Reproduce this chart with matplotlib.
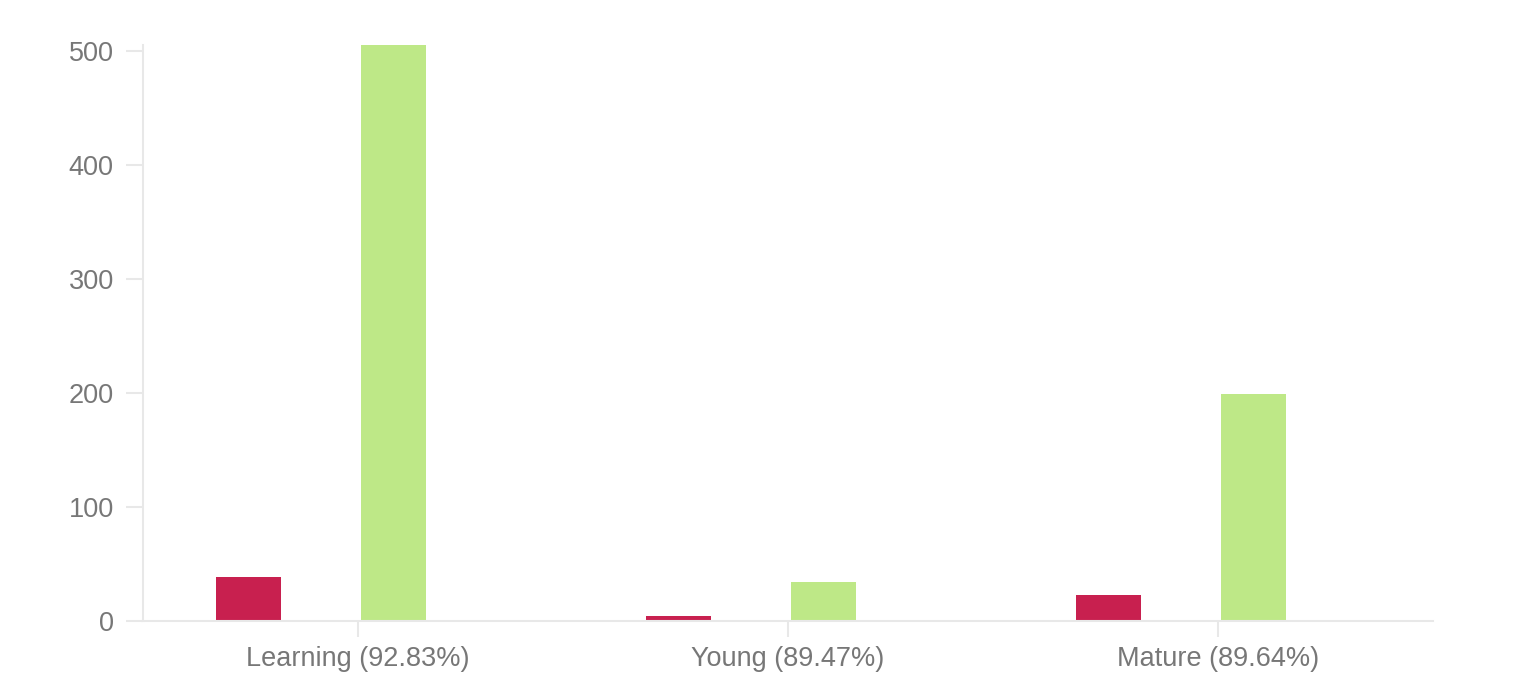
import matplotlib.pyplot as plt
import numpy as np

# data
categories = ['Learning (92.83%)', 'Young (89.47%)', 'Mature (89.64%)']
incorrect = [39, 4, 23]
correct = [505, 34, 199]

red = '#c8204f'
green = '#bee887'
grid_col = '#e8e8e8'
text_col = '#777777'

plt.rcParams['font.family'] = ['Liberation Sans', 'DejaVu Sans']

fig = plt.figure(figsize=(15.28, 6.98), dpi=100)
ax = fig.add_axes([0.0936, 0.1103, 0.8442, 0.8252])

x = np.arange(len(categories))
width = 0.151
ax.bar(x - 0.2547, incorrect, width=width, color=red)
ax.bar(x + 0.0826, correct, width=width, color=green)

ax.set_xlim(-0.5, 2.5)
ax.set_ylim(0, 505)
ax.set_yticks([0, 100, 200, 300, 400, 500])
ax.set_xticks(x)
ax.set_xticklabels(categories)

for side in ['top', 'right']:
    ax.spines[side].set_visible(False)
for side in ['left', 'bottom']:
    ax.spines[side].set_color(grid_col)
    ax.spines[side].set_linewidth(1.5)

ax.tick_params(axis='y', length=12, width=1.5, color=grid_col, pad=9,
               labelsize=19.5, labelcolor=text_col)
ax.tick_params(axis='x', length=11.5, width=1.5, color=grid_col, pad=6.5,
               labelsize=19.5, labelcolor=text_col)

plt.savefig('out.png', dpi=100)
plt.close()
